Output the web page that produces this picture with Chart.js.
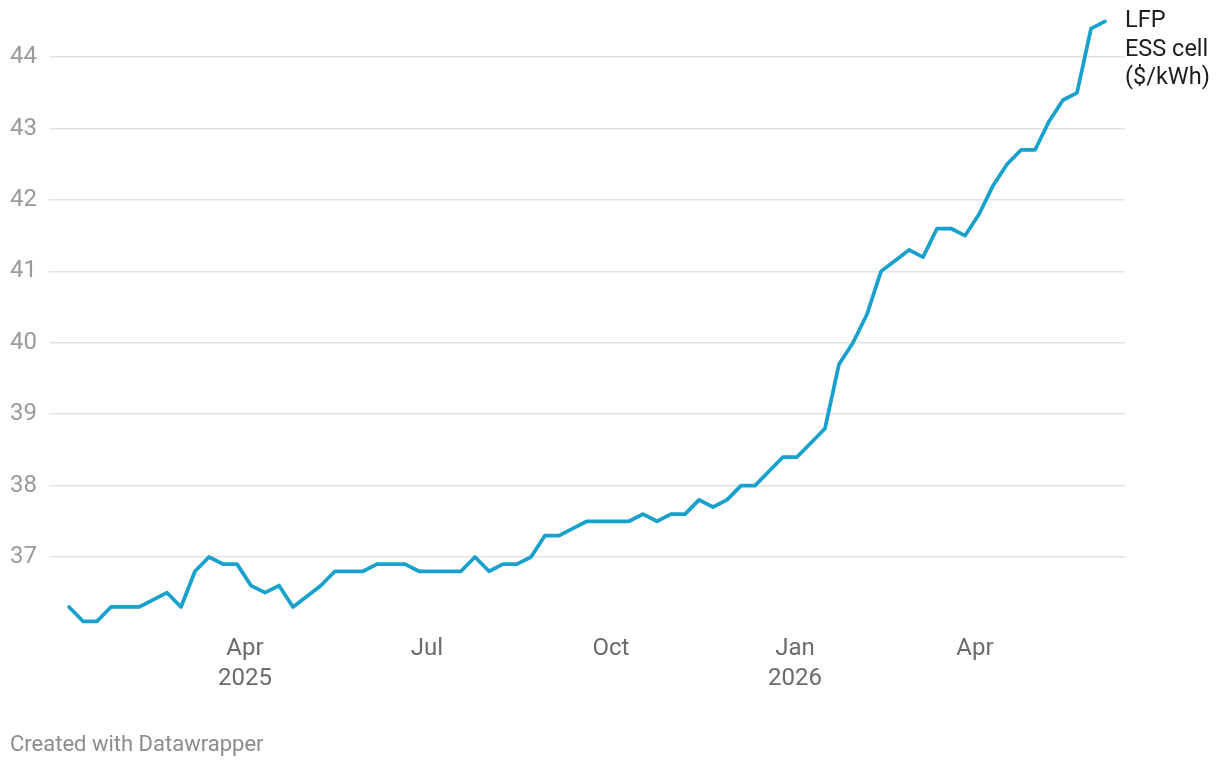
<!DOCTYPE html>
<html lang="en">
<head>
    <meta charset="UTF-8">
    <title>LFP ESS cell price</title>
    <script src="https://cdn.jsdelivr.net/npm/chart.js"></script>
    <style>
        html, body { margin: 0; padding: 0; background: #fff; }
        #wrap { position: relative; width: 1220px; height: 768px; }
        #footer {
            position: absolute; left: 10px; top: 731px;
            font: 22px Roboto, sans-serif; color: #8c8c8c;
        }
    </style>
</head>
<body>
<div id="wrap">
    <canvas id="priceChart"></canvas>
    <div id="footer">Created with Datawrapper</div>
</div>

<script>
// weekly readings
const dates = [
    '2025-01-03', '2025-01-10', '2025-01-17', '2025-01-24', '2025-01-31',
    '2025-02-07', '2025-02-14', '2025-02-21', '2025-02-28',
    '2025-03-07', '2025-03-14', '2025-03-21', '2025-03-28',
    '2025-04-04', '2025-04-11', '2025-04-18', '2025-04-25',
    '2025-05-02', '2025-05-09', '2025-05-16', '2025-05-23', '2025-05-30',
    '2025-06-06', '2025-06-13', '2025-06-20', '2025-06-27',
    '2025-07-04', '2025-07-11', '2025-07-18', '2025-07-25',
    '2025-08-01', '2025-08-08', '2025-08-15', '2025-08-22', '2025-08-29',
    '2025-09-05', '2025-09-12', '2025-09-19', '2025-09-26',
    '2025-10-03', '2025-10-10', '2025-10-17', '2025-10-24', '2025-10-31',
    '2025-11-07', '2025-11-14', '2025-11-21', '2025-11-28',
    '2025-12-05', '2025-12-12', '2025-12-19', '2025-12-26',
    '2026-01-02', '2026-01-09', '2026-01-16', '2026-01-23', '2026-01-30',
    '2026-02-06', '2026-02-13', '2026-02-20', '2026-02-27',
    '2026-03-06', '2026-03-13', '2026-03-20', '2026-03-27',
    '2026-04-03', '2026-04-10', '2026-04-17', '2026-04-24',
    '2026-05-01', '2026-05-08', '2026-05-15', '2026-05-22', '2026-05-29',
    '2026-06-05'
];

const prices = [
    36.3, 36.1, 36.1, 36.3, 36.3,
    36.3, 36.4, 36.5, 36.3,
    36.8, 37.0, 36.9, 36.9,
    36.6, 36.5, 36.6, 36.3,
    36.45, 36.6, 36.8, 36.8, 36.8,
    36.9, 36.9, 36.9, 36.8,
    36.8, 36.8, 36.8, 37.0,
    36.8, 36.9, 36.9, 37.0, 37.3,
    37.3, 37.4, 37.5, 37.5,
    37.5, 37.5, 37.6, 37.5, 37.6,
    37.6, 37.8, 37.7, 37.8,
    38.0, 38.0, 38.2, 38.4,
    38.4, 38.6, 38.8, 39.7, 40.0,
    40.4, 41.0, 41.15, 41.3,
    41.2, 41.6, 41.6, 41.5,
    41.8, 42.2, 42.5, 42.7,
    42.7, 43.1, 43.4, 43.5, 44.4,
    44.5
];

const yTicks = [37, 38, 39, 40, 41, 42, 43, 44];
const xTickDates = ['2025-04-01', '2025-07-01', '2025-10-01', '2026-01-01', '2026-04-01'];
const xTickLabels = [['Apr', '2025'], 'Jul', 'Oct', ['Jan', '2026'], 'Apr'];
const seriesLabel = ['LFP', 'ESS cell', '($/kWh)'];

const DAY = 86400000;
function toDay(s) {
    const p = s.split('-').map(Number);
    return Date.UTC(p[0], p[1] - 1, p[2]) / DAY;
}

const points = dates.map((d, i) => ({ x: toDay(d), y: prices[i] }));
const xTickDays = xTickDates.map(toDay);
const FONT = 'Roboto, sans-serif';

// end-of-line label, like datawrapper's
const lineLabel = {
    id: 'lineLabel',
    afterDatasetsDraw(chart) {
        const meta = chart.getDatasetMeta(0);
        const last = meta.data[meta.data.length - 1];
        const ctx = chart.ctx;
        ctx.save();
        ctx.font = '23.5px ' + FONT;
        ctx.fillStyle = '#1d1d1d';
        ctx.textAlign = 'left';
        ctx.textBaseline = 'middle';
        seriesLabel.forEach((t, i) => ctx.fillText(t, last.x + 20, last.y + i * 28.5));
        ctx.restore();
    }
};

const ctx = document.getElementById('priceChart').getContext('2d');
new Chart(ctx, {
    type: 'line',
    data: {
        datasets: [{
            label: seriesLabel.join(' '),
            data: points,
            borderColor: '#18a1cd',
            borderWidth: 3.75,
            pointRadius: 0,
            tension: 0,
            borderJoinStyle: 'round',
            borderCapStyle: 'round'
        }]
    },
    options: {
        responsive: true,
        maintainAspectRatio: false,
        animation: false,
        layout: { padding: { top: 14.3, right: 95, bottom: 0, left: 0 } },
        plugins: {
            legend: { display: false },
            tooltip: { enabled: false }
        },
        scales: {
            x: {
                type: 'linear',
                min: toDay('2025-04-01') - 98,
                max: toDay('2025-04-01') + 440,
                grid: { display: false, drawTicks: false },
                border: { display: false },
                afterBuildTicks: axis => { axis.ticks = xTickDays.map(v => ({ value: v })); },
                afterFit: axis => {
                    axis.height = 139.6;
                    axis.paddingLeft = 0;
                    axis.paddingRight = 0;
                },
                ticks: {
                    autoSkip: false,
                    maxRotation: 0,
                    padding: 6,
                    color: '#6b6b6b',
                    font: { family: FONT, size: 24, lineHeight: '30px' },
                    callback: (v) => xTickLabels[xTickDays.indexOf(v)]
                }
            },
            y: {
                min: 36,
                max: 44.6,
                grid: { color: '#e3e3e3', lineWidth: 1.5, drawTicks: false },
                border: { display: false },
                afterBuildTicks: axis => { axis.ticks = yTicks.map(v => ({ value: v })); },
                afterFit: axis => {
                    axis.width = 49;
                    axis.paddingTop = 0;
                    axis.paddingBottom = 0;
                },
                ticks: {
                    padding: 12,
                    color: '#9a9a9a',
                    font: { family: FONT, size: 24 }
                }
            }
        }
    },
    plugins: [lineLabel]
});
</script>
</body>
</html>
